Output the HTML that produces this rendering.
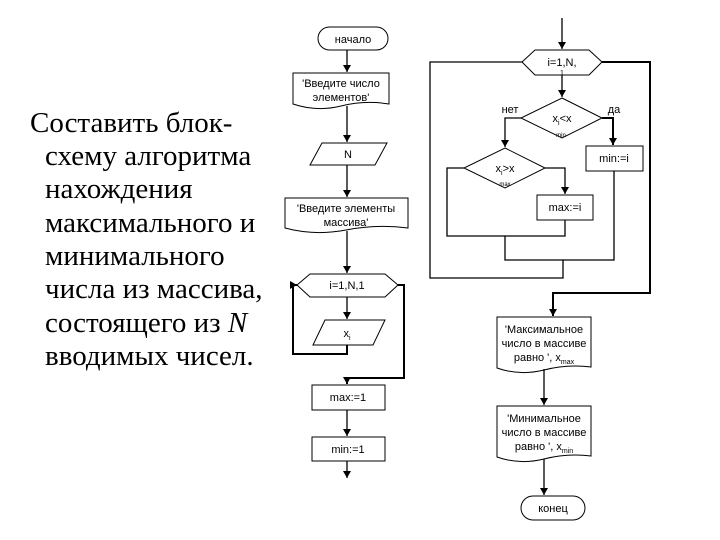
<!DOCTYPE html>
<html><head><meta charset="utf-8"><style>
html,body{margin:0;padding:0;background:#fff;}
svg{display:block;}
.t{font-family:"Liberation Sans",sans-serif;font-size:11px;fill:#000;}
.s{font-family:"Liberation Serif",serif;font-size:29px;fill:#000;}
</style></head><body>
<svg width="720" height="540" viewBox="0 0 720 540" xmlns="http://www.w3.org/2000/svg">
<defs>
<marker id="b" viewBox="0 0 8 8" markerWidth="8" markerHeight="8" refX="4" refY="7" orient="0" markerUnits="userSpaceOnUse"><path d="M0,0 L8,0 L4,7 z" fill="#000"/></marker>
<marker id="r" viewBox="0 0 8 8" markerWidth="8" markerHeight="8" refX="7" refY="4" orient="0" markerUnits="userSpaceOnUse"><path d="M0,0 L0,8 L7,4 z" fill="#000"/></marker>
</defs>
<g class="s">
<text x="30" y="132">Составить блок-</text>
<text x="45" y="165">схему алгоритма</text>
<text x="45" y="198">нахождения</text>
<text x="45" y="232">максимального и</text>
<text x="45" y="265">минимального</text>
<text x="45" y="298">числа из массива,</text>
<text x="45" y="332">состоящего из <tspan font-style="italic">N</tspan></text>
<text x="45" y="365">вводимых чисел.</text>
</g>
<g fill="none" stroke="#000" stroke-width="1">
<rect x="318" y="27" width="70" height="23" rx="11.5"/>
<path d="M293,73 H389 V104 Q365,100 341,106 Q317,112 293,104 Z"/>
<path d="M322,143 H387 L375,165 H310 Z"/>
<path d="M285,198 H408 V228 Q377,224 346,230 Q315,236 285,228 Z"/>
<path d="M310,274 H385 L398,285 L385,297 H310 L297,285 Z"/>
<path d="M325,320 H385 L373,345 H313 Z"/>
<rect x="312" y="385" width="73" height="25"/>
<rect x="312" y="437" width="73" height="24"/>
<path d="M535,50 H589 L602,62 L589,75 H535 L522,62 Z"/>
<path d="M562,98 L602,118 L562,138 L521,118 Z"/>
<rect x="586" y="146" width="57" height="25"/>
<path d="M505,148 L545,168 L505,188 L464,168 Z"/>
<rect x="537" y="195" width="56" height="25"/>
<path d="M497,317 H591 V367 Q567,364 544,370 Q520,376 497,368 Z"/>
<path d="M497,406 H591 V456 Q567,453 544,459 Q520,465 497,457 Z"/>
<rect x="521" y="496" width="64" height="24" rx="12"/>
</g>
<g fill="none" stroke="#000" stroke-width="1.3">
<path d="M347,50 V72" marker-end="url(#b)"/>
<path d="M347,106 V142" marker-end="url(#b)"/>
<path d="M347,165 V197" marker-end="url(#b)"/>
<path d="M347,231 V273" marker-end="url(#b)"/>
<path d="M347,297 V319" marker-end="url(#b)"/>
<path d="M347,345 V354 H293 V285 H297" marker-end="url(#r)" stroke-width="2"/>
<path d="M398,285 H404 V378 H347 V384" marker-end="url(#b)" stroke-width="2"/>
<path d="M347,410 V436" marker-end="url(#b)"/>
<path d="M347,461 V478" marker-end="url(#b)"/>
<path d="M562,18 V49" marker-end="url(#b)"/>
<path d="M562,75 V97" marker-end="url(#b)"/>
<path d="M521,118 H505 V147" marker-end="url(#b)"/>
<path d="M602,118 H613 V145" marker-end="url(#b)" stroke-width="2"/>
<path d="M545,168 H565 V194" marker-end="url(#b)"/>
<path d="M464,168 H447 V236 H565 V220"/>
<path d="M505,236 V260 H614 V171"/>
<path d="M563,260 V278 H430 V62 H522"/>
<path d="M602,62 H650 V293 H553 V316" marker-end="url(#b)" stroke-width="2"/>
<path d="M544,369 V405" marker-end="url(#b)"/>
<path d="M544,459 V495" marker-end="url(#b)"/>
</g>
<g class="t" text-anchor="middle">
<text x="353" y="43">начало</text>
<text x="341" y="87">'Введите число</text>
<text x="341" y="101">элементов'</text>
<text x="348" y="158">N</text>
<text x="346" y="212">'Введите элементы</text>
<text x="346" y="226">массива'</text>
<text x="347" y="289">i=1,N,1</text>
<text x="347" y="337">x<tspan font-size="7" dy="3">i</tspan></text>
<text x="348" y="401">max:=1</text>
<text x="348" y="453">min:=1</text>
<text x="562" y="66">i=1,N,</text>
<text x="562" y="75" font-size="7">1</text>
<text x="562" y="122">x<tspan font-size="7" dy="3">i</tspan><tspan dy="-3">&lt;x</tspan></text>
<text x="561" y="137" font-size="6">min</text>
<text x="505" y="172">x<tspan font-size="7" dy="3">i</tspan><tspan dy="-3">&gt;x</tspan></text>
<text x="505" y="186" font-size="6">max</text>
<text x="614" y="162">min:=i</text>
<text x="565" y="211">max:=i</text>
<text x="510" y="113">нет</text>
<text x="614" y="113">да</text>
<text x="544" y="333">'Максимальное</text>
<text x="544" y="347">число в массиве</text>
<text x="544" y="361">равно ', x<tspan font-size="7" dy="3">max</tspan></text>
<text x="544" y="422">'Минимальное</text>
<text x="544" y="436">число в массиве</text>
<text x="544" y="450">равно ', x<tspan font-size="7" dy="3">min</tspan></text>
<text x="553" y="512">конец</text>
</g>
</svg>
</body></html>
